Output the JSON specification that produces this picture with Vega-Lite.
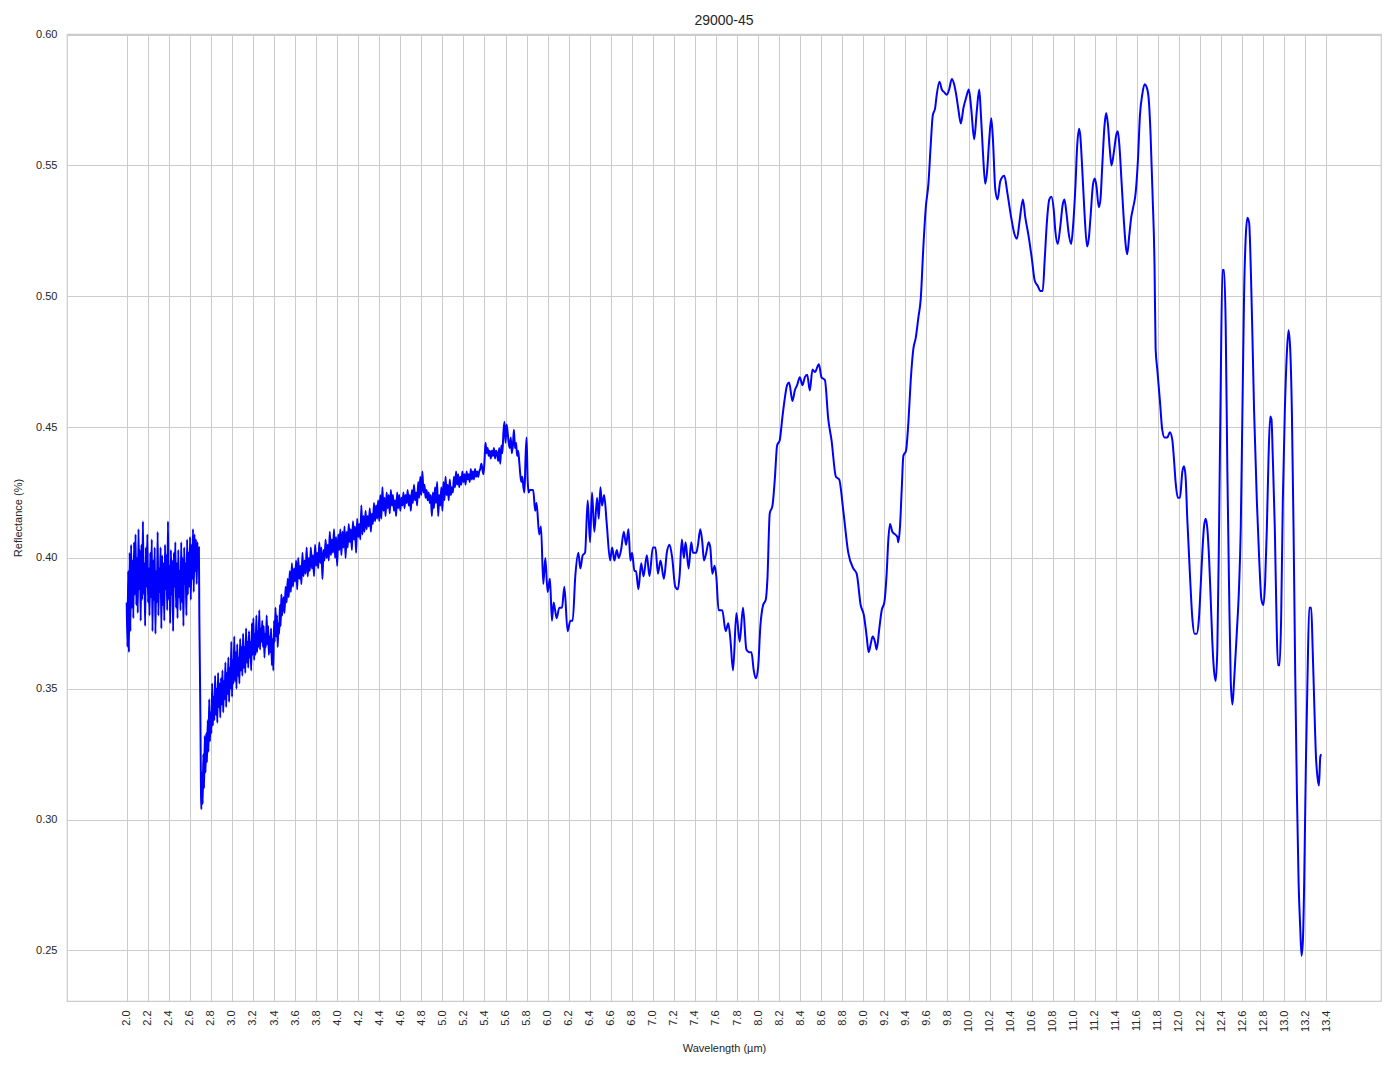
{
"$schema":"https://vega.github.io/schema/vega-lite/v6.json",
"width":1314,"height":967,
"autosize":{"type":"none"},
"padding":{"left":67,"top":34,"right":13,"bottom":68},
"background":"white",
"title":{"text":"29000-45","fontSize":14,"font":"Liberation Sans","fontWeight":"normal","color":"#262626","offset":1,"frame":"group","anchor":"middle"},
"data":{"values":[
{"w":2.000,"r":0.383},{"w":2.007,"r":0.366},{"w":2.014,"r":0.395},{"w":2.021,"r":0.364},{"w":2.028,"r":0.402},{"w":2.035,"r":0.372},{"w":2.042,"r":0.405},{"w":2.049,"r":0.381},{"w":2.056,"r":0.399},{"w":2.063,"r":0.377},
{"w":2.070,"r":0.406},{"w":2.077,"r":0.386},{"w":2.084,"r":0.409},{"w":2.091,"r":0.382},{"w":2.098,"r":0.400},{"w":2.105,"r":0.379},{"w":2.112,"r":0.411},{"w":2.119,"r":0.388},{"w":2.126,"r":0.403},{"w":2.133,"r":0.376},
{"w":2.140,"r":0.405},{"w":2.147,"r":0.384},{"w":2.154,"r":0.414},{"w":2.161,"r":0.386},{"w":2.168,"r":0.398},{"w":2.175,"r":0.374},{"w":2.182,"r":0.404},{"w":2.189,"r":0.389},{"w":2.196,"r":0.409},{"w":2.203,"r":0.383},
{"w":2.210,"r":0.396},{"w":2.217,"r":0.378},{"w":2.224,"r":0.402},{"w":2.231,"r":0.385},{"w":2.238,"r":0.407},{"w":2.245,"r":0.372},{"w":2.252,"r":0.399},{"w":2.259,"r":0.384},{"w":2.266,"r":0.404},{"w":2.273,"r":0.371},
{"w":2.280,"r":0.395},{"w":2.287,"r":0.383},{"w":2.294,"r":0.410},{"w":2.301,"r":0.378},{"w":2.308,"r":0.396},{"w":2.315,"r":0.387},{"w":2.322,"r":0.404},{"w":2.329,"r":0.373},{"w":2.336,"r":0.401},{"w":2.343,"r":0.382},
{"w":2.350,"r":0.398},{"w":2.357,"r":0.376},{"w":2.364,"r":0.405},{"w":2.371,"r":0.388},{"w":2.378,"r":0.401},{"w":2.385,"r":0.380},{"w":2.392,"r":0.414},{"w":2.399,"r":0.384},{"w":2.406,"r":0.397},{"w":2.413,"r":0.375},
{"w":2.420,"r":0.403},{"w":2.427,"r":0.386},{"w":2.434,"r":0.399},{"w":2.441,"r":0.372},{"w":2.448,"r":0.402},{"w":2.455,"r":0.389},{"w":2.462,"r":0.406},{"w":2.469,"r":0.381},{"w":2.476,"r":0.398},{"w":2.483,"r":0.377},
{"w":2.490,"r":0.403},{"w":2.497,"r":0.385},{"w":2.504,"r":0.395},{"w":2.511,"r":0.380},{"w":2.518,"r":0.406},{"w":2.525,"r":0.383},{"w":2.532,"r":0.400},{"w":2.539,"r":0.374},{"w":2.546,"r":0.404},{"w":2.553,"r":0.390},
{"w":2.560,"r":0.398},{"w":2.567,"r":0.378},{"w":2.574,"r":0.407},{"w":2.581,"r":0.386},{"w":2.588,"r":0.402},{"w":2.595,"r":0.389},{"w":2.602,"r":0.408},{"w":2.609,"r":0.384},{"w":2.616,"r":0.405},{"w":2.623,"r":0.392},
{"w":2.630,"r":0.411},{"w":2.637,"r":0.387},{"w":2.644,"r":0.409},{"w":2.651,"r":0.395},{"w":2.658,"r":0.407},{"w":2.665,"r":0.390},{"w":2.672,"r":0.406},{"w":2.679,"r":0.396},{"w":2.686,"r":0.404},{"w":2.690,"r":0.378},
{"w":2.693,"r":0.367},{"w":2.700,"r":0.340},{"w":2.706,"r":0.310},{"w":2.709,"r":0.304},
{"w":2.715,"r":0.318},{"w":2.722,"r":0.306},{"w":2.728,"r":0.325},{"w":2.735,"r":0.312},{"w":2.742,"r":0.332},{"w":2.749,"r":0.318},{"w":2.756,"r":0.333},{"w":2.763,"r":0.322},{"w":2.770,"r":0.338},{"w":2.777,"r":0.326},
{"w":2.784,"r":0.346},{"w":2.791,"r":0.330},{"w":2.798,"r":0.341},{"w":2.805,"r":0.333},{"w":2.812,"r":0.352},{"w":2.819,"r":0.336},{"w":2.826,"r":0.347},{"w":2.833,"r":0.338},{"w":2.840,"r":0.355},{"w":2.847,"r":0.340},
{"w":2.854,"r":0.350},{"w":2.861,"r":0.337},{"w":2.868,"r":0.356},{"w":2.875,"r":0.343},{"w":2.882,"r":0.352},{"w":2.889,"r":0.339},{"w":2.896,"r":0.354},{"w":2.903,"r":0.344},{"w":2.910,"r":0.357},{"w":2.917,"r":0.341},
{"w":2.924,"r":0.353},{"w":2.931,"r":0.346},{"w":2.938,"r":0.360},{"w":2.945,"r":0.343},{"w":2.952,"r":0.356},{"w":2.959,"r":0.348},{"w":2.966,"r":0.362},{"w":2.973,"r":0.345},{"w":2.980,"r":0.358},{"w":2.987,"r":0.350},
{"w":2.994,"r":0.368},{"w":3.001,"r":0.347},{"w":3.008,"r":0.361},{"w":3.015,"r":0.352},{"w":3.022,"r":0.370},{"w":3.029,"r":0.353},{"w":3.036,"r":0.364},{"w":3.043,"r":0.350},{"w":3.050,"r":0.367},{"w":3.057,"r":0.355},
{"w":3.064,"r":0.362},{"w":3.071,"r":0.352},{"w":3.078,"r":0.369},{"w":3.085,"r":0.357},{"w":3.092,"r":0.366},{"w":3.099,"r":0.355},{"w":3.106,"r":0.371},{"w":3.113,"r":0.358},{"w":3.120,"r":0.366},{"w":3.127,"r":0.356},
{"w":3.134,"r":0.373},{"w":3.141,"r":0.360},{"w":3.148,"r":0.368},{"w":3.155,"r":0.358},{"w":3.162,"r":0.372},{"w":3.169,"r":0.362},{"w":3.176,"r":0.368},{"w":3.183,"r":0.357},{"w":3.190,"r":0.375},{"w":3.197,"r":0.363},
{"w":3.204,"r":0.377},{"w":3.211,"r":0.361},{"w":3.218,"r":0.371},{"w":3.225,"r":0.363},{"w":3.232,"r":0.378},{"w":3.239,"r":0.364},{"w":3.246,"r":0.372},{"w":3.253,"r":0.366},{"w":3.260,"r":0.380},{"w":3.267,"r":0.365},
{"w":3.274,"r":0.373},{"w":3.281,"r":0.368},{"w":3.288,"r":0.376},{"w":3.295,"r":0.366},{"w":3.302,"r":0.374},{"w":3.309,"r":0.362},{"w":3.316,"r":0.371},{"w":3.323,"r":0.366},{"w":3.330,"r":0.378},{"w":3.337,"r":0.367},
{"w":3.344,"r":0.374},{"w":3.351,"r":0.363},{"w":3.358,"r":0.370},{"w":3.365,"r":0.364},{"w":3.372,"r":0.373},{"w":3.379,"r":0.359},{"w":3.386,"r":0.369},{"w":3.393,"r":0.357},{"w":3.400,"r":0.376},{"w":3.407,"r":0.368},
{"w":3.414,"r":0.381},{"w":3.421,"r":0.370},{"w":3.428,"r":0.378},{"w":3.435,"r":0.366},{"w":3.442,"r":0.375},{"w":3.449,"r":0.371},{"w":3.456,"r":0.382},{"w":3.463,"r":0.374},{"w":3.470,"r":0.386},{"w":3.477,"r":0.378},
{"w":3.490,"r":0.385},{"w":3.500,"r":0.379},{"w":3.510,"r":0.389},{"w":3.520,"r":0.383},{"w":3.530,"r":0.392},{"w":3.540,"r":0.385},{"w":3.550,"r":0.395},{"w":3.560,"r":0.387},{"w":3.570,"r":0.398},{"w":3.580,"r":0.389},
{"w":3.590,"r":0.396},{"w":3.600,"r":0.391},{"w":3.610,"r":0.399},{"w":3.620,"r":0.388},{"w":3.630,"r":0.400},{"w":3.640,"r":0.392},{"w":3.650,"r":0.397},{"w":3.660,"r":0.390},{"w":3.670,"r":0.402},{"w":3.680,"r":0.393},
{"w":3.690,"r":0.399},{"w":3.700,"r":0.394},{"w":3.710,"r":0.404},{"w":3.720,"r":0.393},{"w":3.730,"r":0.400},{"w":3.740,"r":0.395},{"w":3.750,"r":0.404},{"w":3.760,"r":0.396},{"w":3.770,"r":0.401},{"w":3.780,"r":0.393},
{"w":3.790,"r":0.405},{"w":3.800,"r":0.397},{"w":3.810,"r":0.402},{"w":3.820,"r":0.396},{"w":3.830,"r":0.406},{"w":3.840,"r":0.398},{"w":3.850,"r":0.404},{"w":3.860,"r":0.392},{"w":3.870,"r":0.403},{"w":3.880,"r":0.399},
{"w":3.890,"r":0.407},{"w":3.900,"r":0.400},{"w":3.910,"r":0.405},{"w":3.920,"r":0.399},{"w":3.930,"r":0.410},{"w":3.940,"r":0.401},{"w":3.950,"r":0.407},{"w":3.960,"r":0.402},{"w":3.970,"r":0.411},{"w":3.980,"r":0.400},
{"w":3.990,"r":0.408},{"w":4.000,"r":0.397},{"w":4.010,"r":0.409},{"w":4.020,"r":0.403},{"w":4.030,"r":0.411},{"w":4.040,"r":0.401},{"w":4.050,"r":0.410},{"w":4.060,"r":0.404},{"w":4.070,"r":0.412},{"w":4.080,"r":0.400},
{"w":4.090,"r":0.410},{"w":4.100,"r":0.404},{"w":4.110,"r":0.413},{"w":4.120,"r":0.406},{"w":4.130,"r":0.411},{"w":4.140,"r":0.403},{"w":4.150,"r":0.414},{"w":4.160,"r":0.407},{"w":4.170,"r":0.412},{"w":4.180,"r":0.402},
{"w":4.190,"r":0.415},{"w":4.200,"r":0.408},{"w":4.210,"r":0.413},{"w":4.220,"r":0.407},{"w":4.230,"r":0.420},{"w":4.240,"r":0.409},{"w":4.250,"r":0.416},{"w":4.260,"r":0.410},{"w":4.270,"r":0.418},{"w":4.280,"r":0.411},
{"w":4.290,"r":0.416},{"w":4.300,"r":0.412},{"w":4.310,"r":0.419},{"w":4.320,"r":0.410},{"w":4.330,"r":0.417},{"w":4.340,"r":0.413},{"w":4.350,"r":0.421},{"w":4.360,"r":0.414},{"w":4.370,"r":0.420},{"w":4.380,"r":0.415},
{"w":4.390,"r":0.422},{"w":4.400,"r":0.414},
{"w":4.41,"r":0.424},{"w":4.42,"r":0.415},{"w":4.43,"r":0.427},{"w":4.44,"r":0.418},{"w":4.45,"r":0.423},{"w":4.46,"r":0.416},{"w":4.47,"r":0.425},{"w":4.48,"r":0.419},{"w":4.49,"r":0.424},{"w":4.50,"r":0.417},
{"w":4.51,"r":0.426},{"w":4.52,"r":0.420},{"w":4.53,"r":0.424},{"w":4.54,"r":0.418},{"w":4.55,"r":0.422},{"w":4.56,"r":0.416},{"w":4.57,"r":0.425},{"w":4.58,"r":0.419},{"w":4.59,"r":0.424},{"w":4.60,"r":0.418},
{"w":4.61,"r":0.423},{"w":4.62,"r":0.420},{"w":4.63,"r":0.425},{"w":4.64,"r":0.419},{"w":4.65,"r":0.424},{"w":4.66,"r":0.421},{"w":4.67,"r":0.426},{"w":4.68,"r":0.420},{"w":4.69,"r":0.424},{"w":4.70,"r":0.418},
{"w":4.71,"r":0.426},{"w":4.72,"r":0.421},{"w":4.73,"r":0.428},{"w":4.74,"r":0.422},{"w":4.75,"r":0.425},{"w":4.76,"r":0.420},{"w":4.77,"r":0.429},{"w":4.78,"r":0.423},{"w":4.79,"r":0.431},{"w":4.80,"r":0.424},
{"w":4.81,"r":0.433},{"w":4.82,"r":0.425},{"w":4.83,"r":0.428},{"w":4.84,"r":0.423},{"w":4.85,"r":0.426},{"w":4.86,"r":0.422},{"w":4.87,"r":0.425},{"w":4.88,"r":0.421},{"w":4.89,"r":0.424},{"w":4.90,"r":0.416},
{"w":4.91,"r":0.425},{"w":4.92,"r":0.419},{"w":4.93,"r":0.427},{"w":4.94,"r":0.421},{"w":4.95,"r":0.429},{"w":4.96,"r":0.416},{"w":4.97,"r":0.424},{"w":4.98,"r":0.420},{"w":4.99,"r":0.427},{"w":5.00,"r":0.418},
{"w":5.01,"r":0.429},{"w":5.02,"r":0.422},{"w":5.03,"r":0.431},{"w":5.04,"r":0.424},{"w":5.05,"r":0.428},{"w":5.06,"r":0.422},{"w":5.07,"r":0.430},{"w":5.08,"r":0.424},{"w":5.09,"r":0.427},{"w":5.10,"r":0.425},
{"w":5.11,"r":0.431},{"w":5.12,"r":0.427},{"w":5.13,"r":0.433},{"w":5.14,"r":0.428},{"w":5.15,"r":0.432},{"w":5.16,"r":0.427},{"w":5.17,"r":0.431},{"w":5.18,"r":0.428},{"w":5.19,"r":0.433},{"w":5.20,"r":0.429},
{"w":5.21,"r":0.432},{"w":5.22,"r":0.428},{"w":5.23,"r":0.433},{"w":5.24,"r":0.430},{"w":5.25,"r":0.432},{"w":5.26,"r":0.429},{"w":5.27,"r":0.434},{"w":5.28,"r":0.430},{"w":5.29,"r":0.433},{"w":5.30,"r":0.430},
{"w":5.31,"r":0.434},{"w":5.32,"r":0.431},{"w":5.33,"r":0.433},{"w":5.34,"r":0.431},{"w":5.35,"r":0.433},{"w":5.36,"r":0.434},{"w":5.37,"r":0.436},{"w":5.38,"r":0.434},{"w":5.39,"r":0.432},{"w":5.40,"r":0.437},
{"w":5.41,"r":0.444},{"w":5.42,"r":0.440},{"w":5.43,"r":0.442},{"w":5.44,"r":0.439},{"w":5.45,"r":0.441},{"w":5.46,"r":0.438},{"w":5.47,"r":0.441},{"w":5.48,"r":0.439},{"w":5.49,"r":0.442},{"w":5.50,"r":0.438},
{"w":5.51,"r":0.441},{"w":5.52,"r":0.440},{"w":5.53,"r":0.437},{"w":5.54,"r":0.442},{"w":5.55,"r":0.436},{"w":5.56,"r":0.443},{"w":5.57,"r":0.440},{"w":5.58,"r":0.448},{"w":5.59,"r":0.452},{"w":5.60,"r":0.444},
{"w":5.61,"r":0.451},{"w":5.62,"r":0.448},{"w":5.63,"r":0.444},{"w":5.64,"r":0.442},{"w":5.65,"r":0.446},{"w":5.66,"r":0.440},{"w":5.67,"r":0.443},{"w":5.68,"r":0.449},{"w":5.69,"r":0.442},{"w":5.70,"r":0.444},
{"w":5.71,"r":0.439},{"w":5.72,"r":0.441},{"w":5.73,"r":0.437},{"w":5.74,"r":0.432},{"w":5.75,"r":0.429},{"w":5.76,"r":0.431},{"w":5.77,"r":0.427},{"w":5.78,"r":0.425},{"w":5.79,"r":0.438},{"w":5.80,"r":0.446},
{"w":5.81,"r":0.430},{"w":5.82,"r":0.425},{"w":5.83,"r":0.426},{"w":5.845,"r":0.426},
{"w":5.863,"r":0.426},{"w":5.882,"r":0.418},{"w":5.895,"r":0.421},{"w":5.92,"r":0.409},{"w":5.937,"r":0.412},{"w":5.959,"r":0.390},{"w":5.978,"r":0.400},{"w":6.0,"r":0.387},{"w":6.022,"r":0.392},{"w":6.041,"r":0.376},
{"w":6.057,"r":0.383},{"w":6.086,"r":0.377},{"w":6.111,"r":0.381},{"w":6.137,"r":0.381},{"w":6.159,"r":0.389},{"w":6.19,"r":0.372},{"w":6.216,"r":0.376},{"w":6.238,"r":0.376},{"w":6.263,"r":0.393},{"w":6.292,"r":0.402},
{"w":6.311,"r":0.396},{"w":6.333,"r":0.401},{"w":6.356,"r":0.402},{"w":6.381,"r":0.422},{"w":6.403,"r":0.406},{"w":6.422,"r":0.425},{"w":6.444,"r":0.410},{"w":6.47,"r":0.423},{"w":6.486,"r":0.415},{"w":6.502,"r":0.427},
{"w":6.517,"r":0.420},{"w":6.537,"r":0.424},{"w":6.562,"r":0.413},{"w":6.594,"r":0.399},{"w":6.613,"r":0.404},{"w":6.635,"r":0.399},{"w":6.657,"r":0.403},{"w":6.676,"r":0.400},{"w":6.698,"r":0.403},{"w":6.724,"r":0.410},
{"w":6.746,"r":0.405},{"w":6.768,"r":0.411},{"w":6.787,"r":0.399},{"w":6.803,"r":0.402},{"w":6.825,"r":0.395},{"w":6.84,"r":0.395},{"w":6.863,"r":0.388},{"w":6.889,"r":0.398},{"w":6.911,"r":0.393},{"w":6.943,"r":0.401},
{"w":6.968,"r":0.393},{"w":7.0,"r":0.404},{"w":7.025,"r":0.404},{"w":7.048,"r":0.394},{"w":7.073,"r":0.399},{"w":7.105,"r":0.392},{"w":7.133,"r":0.402},{"w":7.159,"r":0.405},{"w":7.184,"r":0.400},{"w":7.213,"r":0.389},
{"w":7.238,"r":0.388},{"w":7.254,"r":0.393},{"w":7.276,"r":0.407},{"w":7.295,"r":0.400},{"w":7.311,"r":0.406},{"w":7.34,"r":0.396},{"w":7.365,"r":0.406},{"w":7.381,"r":0.402},{"w":7.413,"r":0.402},{"w":7.429,"r":0.405},
{"w":7.451,"r":0.411},{"w":7.47,"r":0.406},{"w":7.486,"r":0.399},{"w":7.508,"r":0.402},{"w":7.53,"r":0.406},{"w":7.546,"r":0.404},{"w":7.565,"r":0.394},{"w":7.587,"r":0.397},{"w":7.603,"r":0.393},
{"w":7.625,"r":0.380},{"w":7.66,"r":0.380},{"w":7.692,"r":0.372},{"w":7.717,"r":0.375},{"w":7.737,"r":0.369},{"w":7.762,"r":0.357},{"w":7.794,"r":0.379},{"w":7.825,"r":0.368},{"w":7.857,"r":0.381},{"w":7.889,"r":0.365},
{"w":7.914,"r":0.364},{"w":7.937,"r":0.364},{"w":7.959,"r":0.357},{"w":7.978,"r":0.354},{"w":8.0,"r":0.358},{"w":8.022,"r":0.374},{"w":8.048,"r":0.382},{"w":8.073,"r":0.384},{"w":8.089,"r":0.392},{"w":8.111,"r":0.417},
{"w":8.137,"r":0.420},{"w":8.159,"r":0.430},{"w":8.181,"r":0.443},{"w":8.206,"r":0.445},{"w":8.232,"r":0.454},{"w":8.254,"r":0.461},{"w":8.276,"r":0.466},{"w":8.295,"r":0.467},{"w":8.327,"r":0.460},{"w":8.349,"r":0.464},
{"w":8.371,"r":0.466},{"w":8.397,"r":0.469},{"w":8.422,"r":0.466},{"w":8.444,"r":0.469},{"w":8.467,"r":0.470},{"w":8.492,"r":0.464},{"w":8.517,"r":0.472},{"w":8.54,"r":0.471},{"w":8.578,"r":0.474},{"w":8.603,"r":0.469},
{"w":8.635,"r":0.468},{"w":8.667,"r":0.453},{"w":8.698,"r":0.445},{"w":8.74,"r":0.431},{"w":8.771,"r":0.430},{"w":8.81,"r":0.418},{"w":8.857,"r":0.402},{"w":8.905,"r":0.396},{"w":8.937,"r":0.394},{"w":8.975,"r":0.382},
{"w":9.006,"r":0.378},{"w":9.032,"r":0.370},{"w":9.051,"r":0.364},{"w":9.07,"r":0.367},{"w":9.089,"r":0.370},{"w":9.111,"r":0.368},{"w":9.127,"r":0.365},{"w":9.152,"r":0.373},{"w":9.175,"r":0.380},{"w":9.2,"r":0.383},
{"w":9.222,"r":0.394},{"w":9.238,"r":0.407},{"w":9.254,"r":0.413},{"w":9.276,"r":0.410},{"w":9.302,"r":0.409},{"w":9.324,"r":0.408},{"w":9.333,"r":0.406},{"w":9.349,"r":0.412},{"w":9.365,"r":0.426},{"w":9.381,"r":0.439},
{"w":9.406,"r":0.441},{"w":9.429,"r":0.452},{"w":9.451,"r":0.468},{"w":9.476,"r":0.480},{"w":9.498,"r":0.484},
{"w":9.524,"r":0.492},{"w":9.546,"r":0.499},{"w":9.571,"r":0.519},{"w":9.594,"r":0.534},{"w":9.619,"r":0.543},{"w":9.641,"r":0.558},{"w":9.66,"r":0.569},{"w":9.683,"r":0.572},{"w":9.698,"r":0.577},{"w":9.724,"r":0.582},
{"w":9.746,"r":0.579},{"w":9.768,"r":0.578},{"w":9.794,"r":0.577},{"w":9.816,"r":0.579},{"w":9.841,"r":0.583},{"w":9.863,"r":0.581},{"w":9.883,"r":0.577},{"w":9.905,"r":0.571},{"w":9.927,"r":0.566},{"w":9.952,"r":0.572},
{"w":9.978,"r":0.576},{"w":10.003,"r":0.579},{"w":10.025,"r":0.572},{"w":10.054,"r":0.560},{"w":10.079,"r":0.571},{"w":10.102,"r":0.579},{"w":10.117,"r":0.570},{"w":10.137,"r":0.555},{"w":10.159,"r":0.543},{"w":10.175,"r":0.547},
{"w":10.197,"r":0.560},{"w":10.216,"r":0.568},{"w":10.232,"r":0.560},{"w":10.254,"r":0.541},{"w":10.276,"r":0.537},{"w":10.302,"r":0.544},{"w":10.34,"r":0.546},{"w":10.371,"r":0.539},{"w":10.406,"r":0.530},{"w":10.435,"r":0.524},
{"w":10.46,"r":0.522},{"w":10.486,"r":0.529},{"w":10.517,"r":0.537},{"w":10.54,"r":0.530},{"w":10.571,"r":0.523},{"w":10.603,"r":0.514},{"w":10.629,"r":0.506},{"w":10.657,"r":0.504},{"w":10.683,"r":0.502},{"w":10.705,"r":0.502},
{"w":10.724,"r":0.514},{"w":10.746,"r":0.529},{"w":10.768,"r":0.537},{"w":10.787,"r":0.538},{"w":10.81,"r":0.533},{"w":10.825,"r":0.525},{"w":10.848,"r":0.520},{"w":10.873,"r":0.527},{"w":10.895,"r":0.535},{"w":10.911,"r":0.537},
{"w":10.93,"r":0.532},{"w":10.952,"r":0.524},{"w":10.975,"r":0.520},{"w":10.994,"r":0.527},{"w":11.016,"r":0.542},{"w":11.032,"r":0.557},{"w":11.051,"r":0.564},{"w":11.063,"r":0.561},{"w":11.079,"r":0.550},{"w":11.102,"r":0.532},
{"w":11.127,"r":0.519},{"w":11.143,"r":0.522},{"w":11.159,"r":0.530},{"w":11.184,"r":0.543},{"w":11.2,"r":0.545},{"w":11.216,"r":0.542},{"w":11.238,"r":0.534},{"w":11.254,"r":0.537},{"w":11.27,"r":0.549},{"w":11.292,"r":0.565},
{"w":11.308,"r":0.570},{"w":11.324,"r":0.566},{"w":11.343,"r":0.556},{"w":11.359,"r":0.550},{"w":11.381,"r":0.555},{"w":11.406,"r":0.562},{"w":11.419,"r":0.563},{"w":11.435,"r":0.557},{"w":11.454,"r":0.544},{"w":11.476,"r":0.529},
{"w":11.495,"r":0.519},{"w":11.508,"r":0.516},{"w":11.527,"r":0.523},{"w":11.546,"r":0.530},{"w":11.565,"r":0.534},{"w":11.587,"r":0.539},{"w":11.61,"r":0.552},{"w":11.629,"r":0.569},{"w":11.651,"r":0.577},{"w":11.673,"r":0.581},
{"w":11.692,"r":0.580},{"w":11.711,"r":0.576},{"w":11.73,"r":0.562},{"w":11.749,"r":0.539},{"w":11.768,"r":0.511},
{"w":11.778,"r":0.480},{"w":11.794,"r":0.472},{"w":11.819,"r":0.460},{"w":11.841,"r":0.449},{"w":11.863,"r":0.446},{"w":11.889,"r":0.446},{"w":11.914,"r":0.448},{"w":11.937,"r":0.445},{"w":11.952,"r":0.438},{"w":11.968,"r":0.429},
{"w":11.99,"r":0.423},{"w":12.01,"r":0.423},{"w":12.032,"r":0.433},{"w":12.048,"r":0.435},{"w":12.063,"r":0.431},{"w":12.079,"r":0.415},{"w":12.105,"r":0.393},{"w":12.127,"r":0.377},{"w":12.149,"r":0.371},{"w":12.168,"r":0.371},
{"w":12.19,"r":0.377},{"w":12.206,"r":0.389},{"w":12.222,"r":0.402},{"w":12.238,"r":0.412},{"w":12.254,"r":0.415},{"w":12.27,"r":0.411},{"w":12.286,"r":0.400},{"w":12.302,"r":0.384},{"w":12.317,"r":0.368},{"w":12.333,"r":0.357},
{"w":12.349,"r":0.353},{"w":12.365,"r":0.366},{"w":12.381,"r":0.411},{"w":12.397,"r":0.467},{"w":12.413,"r":0.510},{"w":12.429,"r":0.510},{"w":12.444,"r":0.489},{"w":12.46,"r":0.433},{"w":12.476,"r":0.389},{"w":12.492,"r":0.353},
{"w":12.508,"r":0.344},{"w":12.524,"r":0.353},{"w":12.549,"r":0.371},{"w":12.571,"r":0.389},{"w":12.587,"r":0.411},{"w":12.603,"r":0.456},{"w":12.619,"r":0.501},{"w":12.635,"r":0.523},{"w":12.651,"r":0.530},{"w":12.667,"r":0.528},
{"w":12.683,"r":0.510},{"w":12.698,"r":0.485},{"w":12.714,"r":0.456},{"w":12.74,"r":0.422},{"w":12.762,"r":0.400},{"w":12.784,"r":0.384},{"w":12.803,"r":0.382},{"w":12.819,"r":0.391},{"w":12.835,"r":0.411},{"w":12.851,"r":0.438},
{"w":12.867,"r":0.454},{"w":12.879,"r":0.453},{"w":12.892,"r":0.438},{"w":12.911,"r":0.411},{"w":12.927,"r":0.377},{"w":12.94,"r":0.359},{"w":12.956,"r":0.359},{"w":12.971,"r":0.377},{"w":12.987,"r":0.422},{"w":13.006,"r":0.456},
{"w":13.025,"r":0.478},{"w":13.041,"r":0.487},{"w":13.057,"r":0.480},{"w":13.073,"r":0.456},{"w":13.089,"r":0.411},{"w":13.105,"r":0.355},{"w":13.121,"r":0.310},{"w":13.137,"r":0.276},{"w":13.152,"r":0.259},{"w":13.165,"r":0.248},
{"w":13.178,"r":0.254},{"w":13.19,"r":0.276},{"w":13.206,"r":0.321},{"w":13.222,"r":0.355},{"w":13.238,"r":0.381},{"w":13.257,"r":0.381},{"w":13.27,"r":0.366},{"w":13.286,"r":0.344},{"w":13.302,"r":0.324},{"w":13.317,"r":0.316},
{"w":13.33,"r":0.313},{"w":13.343,"r":0.324},{"w":13.352,"r":0.325}
]},
"mark":{"type":"line","color":"#0000ff","strokeWidth":2,"clip":true,"interpolate":"monotone"},
"encoding":{
"x":{"field":"w","type":"quantitative","sort":null,
"scale":{"domain":[1.4325,13.92],"nice":false,"zero":false},
"axis":{"title":"Wavelength (µm)","values":[2.0,2.2,2.4,2.6,2.8,3.0,3.2,3.4,3.6,3.8,4.0,4.2,4.4,4.6,4.8,5.0,5.2,5.4,5.6,5.8,6.0,6.2,6.4,6.6,6.8,7.0,7.2,7.4,7.6,7.8,8.0,8.2,8.4,8.6,8.8,9.0,9.2,9.4,9.6,9.8,10.0,10.2,10.4,10.6,10.8,11.0,11.2,11.4,11.6,11.8,12.0,12.2,12.4,12.6,12.8,13.0,13.2,13.4],"format":".1f","labelAngle":-90,"labelPadding":9,"titlePadding":11}},
"y":{"field":"r","type":"quantitative",
"scale":{"domain":[0.2307,0.6002],"nice":false,"zero":false},
"axis":{"title":"Reflectance (%)","values":[0.25,0.30,0.35,0.40,0.45,0.50,0.55,0.60],"format":".2f","labelPadding":10,"titlePadding":12}}
},
"config":{
"view":{"stroke":"#cccccc","strokeWidth":1.25},
"axis":{"grid":true,"gridColor":"#cccccc","gridWidth":1,"domain":false,"ticks":false,
"labelFont":"Liberation Sans","labelFontSize":11,"labelColor":"#262626",
"titleFont":"Liberation Sans","titleFontSize":11,"titleFontWeight":"normal","titleColor":"#262626"}
}
}
